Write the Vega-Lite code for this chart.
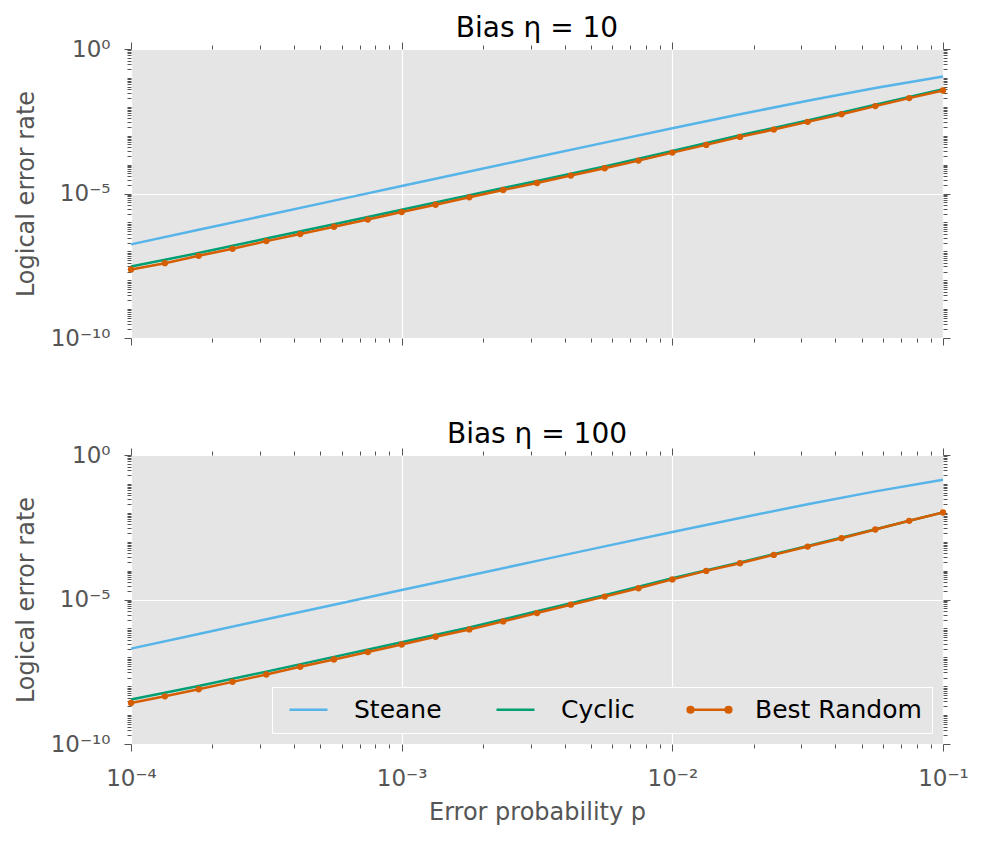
{
  "$schema": "https://vega.github.io/schema/vega-lite/v6.json",
  "padding": {"left": 14, "top": 15, "right": 10, "bottom": 5},
  "config": {
    "font": "DejaVu Sans",
    "view": {"fill": "#E5E5E5", "stroke": null},
    "axis": {
      "domain": false,
      "tickColor": "#555555",
      "tickWidth": 1,
      "labelColor": "#555555",
      "titleColor": "#555555",
      "labelFontSize": 23,
      "titleFontSize": 24,
      "titleFontWeight": "normal",
      "gridColor": "#FFFFFF",
      "gridWidth": 1.2,
      "labelFlush": false,
      "labelBound": false,
      "labelOverlap": false
    },
    "title": {"fontSize": 28, "fontWeight": "normal", "color": "#000000", "baseline": "alphabetic", "offset": -5}
  },
  "datasets": {
    "curves": [
      {"bias": 10, "code": "Steane", "p": 0.0001, "rate": 1.738e-7},
      {"bias": 10, "code": "Steane", "p": 0.0001778, "rate": 5.559e-7},
      {"bias": 10, "code": "Steane", "p": 0.0003162, "rate": 1.774e-6},
      {"bias": 10, "code": "Steane", "p": 0.0005623, "rate": 5.675e-6},
      {"bias": 10, "code": "Steane", "p": 0.001, "rate": 1.807e-5},
      {"bias": 10, "code": "Steane", "p": 0.001778, "rate": 5.768e-5},
      {"bias": 10, "code": "Steane", "p": 0.003162, "rate": 1.828e-4},
      {"bias": 10, "code": "Steane", "p": 0.005623, "rate": 5.768e-4},
      {"bias": 10, "code": "Steane", "p": 0.01, "rate": 1.799e-3},
      {"bias": 10, "code": "Steane", "p": 0.01778, "rate": 5.495e-3},
      {"bias": 10, "code": "Steane", "p": 0.03162, "rate": 1.626e-2},
      {"bias": 10, "code": "Steane", "p": 0.05623, "rate": 4.508e-2},
      {"bias": 10, "code": "Steane", "p": 0.1, "rate": 1.122e-1},

      {"bias": 10, "code": "Cyclic", "p": 0.0001, "rate": 2.965e-8},
      {"bias": 10, "code": "Cyclic", "p": 0.0001778, "rate": 8.67e-8},
      {"bias": 10, "code": "Cyclic", "p": 0.0003162, "rate": 2.773e-7},
      {"bias": 10, "code": "Cyclic", "p": 0.0005623, "rate": 8.59e-7},
      {"bias": 10, "code": "Cyclic", "p": 0.001, "rate": 2.742e-6},
      {"bias": 10, "code": "Cyclic", "p": 0.001778, "rate": 8.77e-6},
      {"bias": 10, "code": "Cyclic", "p": 0.003162, "rate": 2.716e-5},
      {"bias": 10, "code": "Cyclic", "p": 0.005623, "rate": 8.67e-5},
      {"bias": 10, "code": "Cyclic", "p": 0.01, "rate": 2.985e-4},
      {"bias": 10, "code": "Cyclic", "p": 0.01778, "rate": 1.033e-3},
      {"bias": 10, "code": "Cyclic", "p": 0.03162, "rate": 3.381e-3},
      {"bias": 10, "code": "Cyclic", "p": 0.05623, "rate": 1.172e-2},
      {"bias": 10, "code": "Cyclic", "p": 0.1, "rate": 4.027e-2},

      {"bias": 10, "code": "Best Random", "p": 0.0001, "rate": 2.355e-8},
      {"bias": 10, "code": "Best Random", "p": 0.0001334, "rate": 3.89e-8},
      {"bias": 10, "code": "Best Random", "p": 0.0001778, "rate": 6.966e-8},
      {"bias": 10, "code": "Best Random", "p": 0.0002371, "rate": 1.219e-7},
      {"bias": 10, "code": "Best Random", "p": 0.0003162, "rate": 2.254e-7},
      {"bias": 10, "code": "Best Random", "p": 0.0004217, "rate": 3.945e-7},
      {"bias": 10, "code": "Best Random", "p": 0.0005623, "rate": 7.063e-7},
      {"bias": 10, "code": "Best Random", "p": 0.0007499, "rate": 1.256e-6},
      {"bias": 10, "code": "Best Random", "p": 0.001, "rate": 2.28e-6},
      {"bias": 10, "code": "Best Random", "p": 0.001334, "rate": 4.083e-6},
      {"bias": 10, "code": "Best Random", "p": 0.001778, "rate": 7.379e-6},
      {"bias": 10, "code": "Best Random", "p": 0.002371, "rate": 1.321e-5},
      {"bias": 10, "code": "Best Random", "p": 0.003162, "rate": 2.312e-5},
      {"bias": 10, "code": "Best Random", "p": 0.004217, "rate": 4.169e-5},
      {"bias": 10, "code": "Best Random", "p": 0.005623, "rate": 7.464e-5},
      {"bias": 10, "code": "Best Random", "p": 0.007499, "rate": 1.374e-4},
      {"bias": 10, "code": "Best Random", "p": 0.01, "rate": 2.6e-4},
      {"bias": 10, "code": "Best Random", "p": 0.01334, "rate": 4.808e-4},
      {"bias": 10, "code": "Best Random", "p": 0.01778, "rate": 9.099e-4},
      {"bias": 10, "code": "Best Random", "p": 0.02371, "rate": 1.633e-3},
      {"bias": 10, "code": "Best Random", "p": 0.03162, "rate": 3.013e-3},
      {"bias": 10, "code": "Best Random", "p": 0.04217, "rate": 5.559e-3},
      {"bias": 10, "code": "Best Random", "p": 0.05623, "rate": 1.057e-2},
      {"bias": 10, "code": "Best Random", "p": 0.07499, "rate": 2.0e-2},
      {"bias": 10, "code": "Best Random", "p": 0.1, "rate": 3.673e-2},

      {"bias": 100, "code": "Steane", "p": 0.0001, "rate": 1.995e-7},
      {"bias": 100, "code": "Steane", "p": 0.0001778, "rate": 6.412e-7},
      {"bias": 100, "code": "Steane", "p": 0.0003162, "rate": 2.061e-6},
      {"bias": 100, "code": "Steane", "p": 0.0005623, "rate": 6.622e-6},
      {"bias": 100, "code": "Steane", "p": 0.001, "rate": 2.123e-5},
      {"bias": 100, "code": "Steane", "p": 0.001778, "rate": 6.808e-5},
      {"bias": 100, "code": "Steane", "p": 0.003162, "rate": 2.173e-4},
      {"bias": 100, "code": "Steane", "p": 0.005623, "rate": 6.887e-4},
      {"bias": 100, "code": "Steane", "p": 0.01, "rate": 2.163e-3},
      {"bias": 100, "code": "Steane", "p": 0.01778, "rate": 6.653e-3},
      {"bias": 100, "code": "Steane", "p": 0.03162, "rate": 1.977e-2},
      {"bias": 100, "code": "Steane", "p": 0.05623, "rate": 5.521e-2},
      {"bias": 100, "code": "Steane", "p": 0.1, "rate": 1.38e-1},

      {"bias": 100, "code": "Cyclic", "p": 0.0001, "rate": 3.467e-9},
      {"bias": 100, "code": "Cyclic", "p": 0.0001778, "rate": 1.012e-8},
      {"bias": 100, "code": "Cyclic", "p": 0.0003162, "rate": 3.192e-8},
      {"bias": 100, "code": "Cyclic", "p": 0.0005623, "rate": 1.033e-7},
      {"bias": 100, "code": "Cyclic", "p": 0.001, "rate": 3.342e-7},
      {"bias": 100, "code": "Cyclic", "p": 0.001778, "rate": 1.084e-6},
      {"bias": 100, "code": "Cyclic", "p": 0.003162, "rate": 3.899e-6},
      {"bias": 100, "code": "Cyclic", "p": 0.005623, "rate": 1.413e-5},
      {"bias": 100, "code": "Cyclic", "p": 0.01, "rate": 5.433e-5},
      {"bias": 100, "code": "Cyclic", "p": 0.01778, "rate": 1.923e-4},
      {"bias": 100, "code": "Cyclic", "p": 0.03162, "rate": 7.112e-4},
      {"bias": 100, "code": "Cyclic", "p": 0.05623, "rate": 2.71e-3},
      {"bias": 100, "code": "Cyclic", "p": 0.1, "rate": 1.035e-2},

      {"bias": 100, "code": "Best Random", "p": 0.0001, "rate": 2.63e-9},
      {"bias": 100, "code": "Best Random", "p": 0.0001334, "rate": 4.467e-9},
      {"bias": 100, "code": "Best Random", "p": 0.0001778, "rate": 7.852e-9},
      {"bias": 100, "code": "Best Random", "p": 0.0002371, "rate": 1.413e-8},
      {"bias": 100, "code": "Best Random", "p": 0.0003162, "rate": 2.535e-8},
      {"bias": 100, "code": "Best Random", "p": 0.0004217, "rate": 4.677e-8},
      {"bias": 100, "code": "Best Random", "p": 0.0005623, "rate": 8.395e-8},
      {"bias": 100, "code": "Best Random", "p": 0.0007499, "rate": 1.514e-7},
      {"bias": 100, "code": "Best Random", "p": 0.001, "rate": 2.78e-7},
      {"bias": 100, "code": "Best Random", "p": 0.001334, "rate": 5.129e-7},
      {"bias": 100, "code": "Best Random", "p": 0.001778, "rate": 9.226e-7},
      {"bias": 100, "code": "Best Random", "p": 0.002371, "rate": 1.746e-6},
      {"bias": 100, "code": "Best Random", "p": 0.003162, "rate": 3.396e-6},
      {"bias": 100, "code": "Best Random", "p": 0.004217, "rate": 6.607e-6},
      {"bias": 100, "code": "Best Random", "p": 0.005623, "rate": 1.259e-5},
      {"bias": 100, "code": "Best Random", "p": 0.007499, "rate": 2.455e-5},
      {"bias": 100, "code": "Best Random", "p": 0.01, "rate": 4.955e-5},
      {"bias": 100, "code": "Best Random", "p": 0.01334, "rate": 9.772e-5},
      {"bias": 100, "code": "Best Random", "p": 0.01778, "rate": 1.795e-4},
      {"bias": 100, "code": "Best Random", "p": 0.02371, "rate": 3.491e-4},
      {"bias": 100, "code": "Best Random", "p": 0.03162, "rate": 6.792e-4},
      {"bias": 100, "code": "Best Random", "p": 0.04217, "rate": 1.321e-3},
      {"bias": 100, "code": "Best Random", "p": 0.05623, "rate": 2.649e-3},
      {"bias": 100, "code": "Best Random", "p": 0.07499, "rate": 5.272e-3},
      {"bias": 100, "code": "Best Random", "p": 0.1, "rate": 1.023e-2}
    ]
  },
  "data": {"name": "curves"},
  "spacing": 71,
  "resolve": {"scale": {"color": "independent"}, "legend": {"color": "independent"}},
  "vconcat": [
    {
      "title": "Bias η = 10",
      "width": 812,
      "height": 289,
      "transform": [{"filter": "datum.bias == 10"}],
      "resolve": {"axis": {"x": "independent", "y": "independent"}},
      "layer": [
        {
          "mark": {"type": "line", "strokeWidth": 2.5},
          "encoding": {
            "x": {
              "field": "p", "type": "quantitative",
              "scale": {"type": "log", "domain": [0.0001, 0.1], "nice": false},
              "axis": {
                "orient": "bottom", "title": null, "labels": false,
                "values": [0.0001, 0.0002, 0.0003, 0.0004, 0.0005, 0.0006, 0.0007, 0.0008, 0.0009, 0.001, 0.002, 0.003, 0.004, 0.005, 0.006, 0.007, 0.008, 0.009, 0.01, 0.02, 0.03, 0.04, 0.05, 0.06, 0.07, 0.08, 0.09, 0.1],
                "tickSize": {"condition": {"test": "indexof([0.0001, 0.001, 0.01, 0.1], datum.value) >= 0", "value": 7}, "value": 4},
                "grid": true,
                "gridOpacity": {"condition": {"test": "indexof([0.0001, 0.001, 0.01, 0.1], datum.value) >= 0", "value": 1}, "value": 0}
              }
            },
            "y": {
              "field": "rate", "type": "quantitative",
              "scale": {"type": "log", "domain": [1e-10, 1], "nice": false},
              "axis": {
                "orient": "left", "title": "Logical error rate", "titlePadding": 12,
                "values": [1e-10, 2e-10, 3e-10, 4e-10, 5e-10, 6e-10, 7e-10, 8e-10, 9e-10, 1e-9, 2e-9, 3e-9, 4e-9, 5e-9, 6e-9, 7e-9, 8e-9, 9e-9, 1e-8, 2e-8, 3e-8, 4e-8, 5e-8, 6e-8, 7e-8, 8e-8, 9e-8, 1e-7, 2e-7, 3e-7, 4e-7, 5e-7, 6e-7, 7e-7, 8e-7, 9e-7, 1e-6, 2e-6, 3e-6, 4e-6, 5e-6, 6e-6, 7e-6, 8e-6, 9e-6, 1e-5, 2e-5, 3e-5, 4e-5, 5e-5, 6e-5, 7e-5, 8e-5, 9e-5, 1e-4, 2e-4, 3e-4, 4e-4, 5e-4, 6e-4, 7e-4, 8e-4, 9e-4, 1e-3, 2e-3, 3e-3, 4e-3, 5e-3, 6e-3, 7e-3, 8e-3, 9e-3, 1e-2, 2e-2, 3e-2, 4e-2, 5e-2, 6e-2, 7e-2, 8e-2, 9e-2, 1e-1, 2e-1, 3e-1, 4e-1, 5e-1, 6e-1, 7e-1, 8e-1, 9e-1, 1],
                "labelExpr": "datum.value == 1 ? '10⁰' : datum.value == 1e-5 ? '10⁻⁵' : datum.value == 1e-10 ? '10⁻¹⁰' : ''",
                "labelPadding": 14,
                "tickSize": {"condition": {"test": "indexof([1, 1e-5, 1e-10], datum.value) >= 0", "value": 7}, "value": 4},
                "grid": true,
                "gridOpacity": {"condition": {"test": "indexof([1, 1e-5, 1e-10], datum.value) >= 0", "value": 1}, "value": 0}
              }
            },
            "color": {
              "field": "code", "type": "nominal",
              "scale": {"domain": ["Steane", "Cyclic", "Best Random"], "range": ["#56B4E9", "#009E73", "#D55E00"]},
              "legend": null
            }
          }
        },
        {
          "transform": [{"filter": "datum.code == 'Best Random'"}],
          "mark": {"type": "point", "filled": true, "size": 40, "color": "#D55E00", "opacity": 1},
          "encoding": {
            "x": {
              "field": "p", "type": "quantitative",
              "axis": {
                "orient": "top", "title": null, "labels": false, "grid": false,
                "values": [0.0001, 0.0002, 0.0003, 0.0004, 0.0005, 0.0006, 0.0007, 0.0008, 0.0009, 0.001, 0.002, 0.003, 0.004, 0.005, 0.006, 0.007, 0.008, 0.009, 0.01, 0.02, 0.03, 0.04, 0.05, 0.06, 0.07, 0.08, 0.09, 0.1],
                "tickSize": {"condition": {"test": "indexof([0.0001, 0.001, 0.01, 0.1], datum.value) >= 0", "value": 7}, "value": 4}
              }
            },
            "y": {
              "field": "rate", "type": "quantitative",
              "axis": {
                "orient": "right", "title": null, "labels": false, "grid": false,
                "values": [1e-10, 2e-10, 3e-10, 4e-10, 5e-10, 6e-10, 7e-10, 8e-10, 9e-10, 1e-9, 2e-9, 3e-9, 4e-9, 5e-9, 6e-9, 7e-9, 8e-9, 9e-9, 1e-8, 2e-8, 3e-8, 4e-8, 5e-8, 6e-8, 7e-8, 8e-8, 9e-8, 1e-7, 2e-7, 3e-7, 4e-7, 5e-7, 6e-7, 7e-7, 8e-7, 9e-7, 1e-6, 2e-6, 3e-6, 4e-6, 5e-6, 6e-6, 7e-6, 8e-6, 9e-6, 1e-5, 2e-5, 3e-5, 4e-5, 5e-5, 6e-5, 7e-5, 8e-5, 9e-5, 1e-4, 2e-4, 3e-4, 4e-4, 5e-4, 6e-4, 7e-4, 8e-4, 9e-4, 1e-3, 2e-3, 3e-3, 4e-3, 5e-3, 6e-3, 7e-3, 8e-3, 9e-3, 1e-2, 2e-2, 3e-2, 4e-2, 5e-2, 6e-2, 7e-2, 8e-2, 9e-2, 1e-1, 2e-1, 3e-1, 4e-1, 5e-1, 6e-1, 7e-1, 8e-1, 9e-1, 1],
                "tickSize": {"condition": {"test": "indexof([1, 1e-5, 1e-10], datum.value) >= 0", "value": 7}, "value": 4}
              }
            }
          }
        }
      ]
    },
    {
      "title": "Bias η = 100",
      "width": 812,
      "height": 289,
      "transform": [{"filter": "datum.bias == 100"}],
      "resolve": {"axis": {"x": "independent", "y": "independent"}},
      "layer": [
        {
          "mark": {"type": "line", "strokeWidth": 2.5},
          "encoding": {
            "x": {
              "field": "p", "type": "quantitative",
              "scale": {"type": "log", "domain": [0.0001, 0.1], "nice": false},
              "axis": {
                "orient": "bottom", "title": "Error probability p", "titlePadding": 10,
                "values": [0.0001, 0.0002, 0.0003, 0.0004, 0.0005, 0.0006, 0.0007, 0.0008, 0.0009, 0.001, 0.002, 0.003, 0.004, 0.005, 0.006, 0.007, 0.008, 0.009, 0.01, 0.02, 0.03, 0.04, 0.05, 0.06, 0.07, 0.08, 0.09, 0.1],
                "labelExpr": "datum.value == 0.0001 ? '10⁻⁴' : datum.value == 0.001 ? '10⁻³' : datum.value == 0.01 ? '10⁻²' : datum.value == 0.1 ? '10⁻¹' : ''",
                "labelPadding": 16,
                "tickSize": {"condition": {"test": "indexof([0.0001, 0.001, 0.01, 0.1], datum.value) >= 0", "value": 7}, "value": 4},
                "grid": true,
                "gridOpacity": {"condition": {"test": "indexof([0.0001, 0.001, 0.01, 0.1], datum.value) >= 0", "value": 1}, "value": 0}
              }
            },
            "y": {
              "field": "rate", "type": "quantitative",
              "scale": {"type": "log", "domain": [1e-10, 1], "nice": false},
              "axis": {
                "orient": "left", "title": "Logical error rate", "titlePadding": 12,
                "values": [1e-10, 2e-10, 3e-10, 4e-10, 5e-10, 6e-10, 7e-10, 8e-10, 9e-10, 1e-9, 2e-9, 3e-9, 4e-9, 5e-9, 6e-9, 7e-9, 8e-9, 9e-9, 1e-8, 2e-8, 3e-8, 4e-8, 5e-8, 6e-8, 7e-8, 8e-8, 9e-8, 1e-7, 2e-7, 3e-7, 4e-7, 5e-7, 6e-7, 7e-7, 8e-7, 9e-7, 1e-6, 2e-6, 3e-6, 4e-6, 5e-6, 6e-6, 7e-6, 8e-6, 9e-6, 1e-5, 2e-5, 3e-5, 4e-5, 5e-5, 6e-5, 7e-5, 8e-5, 9e-5, 1e-4, 2e-4, 3e-4, 4e-4, 5e-4, 6e-4, 7e-4, 8e-4, 9e-4, 1e-3, 2e-3, 3e-3, 4e-3, 5e-3, 6e-3, 7e-3, 8e-3, 9e-3, 1e-2, 2e-2, 3e-2, 4e-2, 5e-2, 6e-2, 7e-2, 8e-2, 9e-2, 1e-1, 2e-1, 3e-1, 4e-1, 5e-1, 6e-1, 7e-1, 8e-1, 9e-1, 1],
                "labelExpr": "datum.value == 1 ? '10⁰' : datum.value == 1e-5 ? '10⁻⁵' : datum.value == 1e-10 ? '10⁻¹⁰' : ''",
                "labelPadding": 14,
                "tickSize": {"condition": {"test": "indexof([1, 1e-5, 1e-10], datum.value) >= 0", "value": 7}, "value": 4},
                "grid": true,
                "gridOpacity": {"condition": {"test": "indexof([1, 1e-5, 1e-10], datum.value) >= 0", "value": 1}, "value": 0}
              }
            },
            "color": {
              "field": "code", "type": "nominal",
              "scale": {"domain": ["Steane", "Cyclic", "Best Random"], "range": ["#56B4E9", "#009E73", "#D55E00"]},
              "legend": {
                "title": null,
                "orient": "none",
                "legendX": 141,
                "legendY": 232,
                "direction": "horizontal",
                "fillColor": "#E5E5E5",
                "strokeColor": "#FFFFFF",
                "padding": 10,
                "cornerRadius": 0,
                "labelFontSize": 25,
                "labelColor": "#000000",
                "labelLimit": 0,
                "labelOffset": 47,
                "columnPadding": 47,
                "symbolSize": 361,
                "symbolStrokeWidth": 2.5,
                "encode": {
                  "symbols": {
                    "update": {
                      "shape": {"signal": "datum.label === 'Best Random' ? 'M-0.526,0L3.474,0M-0.226,0A0.3,0.3,0,1,1,-0.826,0A0.3,0.3,0,1,1,-0.226,0M3.774,0A0.3,0.3,0,1,1,3.174,0A0.3,0.3,0,1,1,3.774,0' : 'M-0.526,0L3.474,0'"},
                      "fill": {"signal": "datum.label === 'Best Random' ? '#D55E00' : 'transparent'"}
                    }
                  }
                }
              }
            }
          }
        },
        {
          "transform": [{"filter": "datum.code == 'Best Random'"}],
          "mark": {"type": "point", "filled": true, "size": 40, "color": "#D55E00", "opacity": 1},
          "encoding": {
            "x": {
              "field": "p", "type": "quantitative",
              "axis": {
                "orient": "top", "title": null, "labels": false, "grid": false,
                "values": [0.0001, 0.0002, 0.0003, 0.0004, 0.0005, 0.0006, 0.0007, 0.0008, 0.0009, 0.001, 0.002, 0.003, 0.004, 0.005, 0.006, 0.007, 0.008, 0.009, 0.01, 0.02, 0.03, 0.04, 0.05, 0.06, 0.07, 0.08, 0.09, 0.1],
                "tickSize": {"condition": {"test": "indexof([0.0001, 0.001, 0.01, 0.1], datum.value) >= 0", "value": 7}, "value": 4}
              }
            },
            "y": {
              "field": "rate", "type": "quantitative",
              "axis": {
                "orient": "right", "title": null, "labels": false, "grid": false,
                "values": [1e-10, 2e-10, 3e-10, 4e-10, 5e-10, 6e-10, 7e-10, 8e-10, 9e-10, 1e-9, 2e-9, 3e-9, 4e-9, 5e-9, 6e-9, 7e-9, 8e-9, 9e-9, 1e-8, 2e-8, 3e-8, 4e-8, 5e-8, 6e-8, 7e-8, 8e-8, 9e-8, 1e-7, 2e-7, 3e-7, 4e-7, 5e-7, 6e-7, 7e-7, 8e-7, 9e-7, 1e-6, 2e-6, 3e-6, 4e-6, 5e-6, 6e-6, 7e-6, 8e-6, 9e-6, 1e-5, 2e-5, 3e-5, 4e-5, 5e-5, 6e-5, 7e-5, 8e-5, 9e-5, 1e-4, 2e-4, 3e-4, 4e-4, 5e-4, 6e-4, 7e-4, 8e-4, 9e-4, 1e-3, 2e-3, 3e-3, 4e-3, 5e-3, 6e-3, 7e-3, 8e-3, 9e-3, 1e-2, 2e-2, 3e-2, 4e-2, 5e-2, 6e-2, 7e-2, 8e-2, 9e-2, 1e-1, 2e-1, 3e-1, 4e-1, 5e-1, 6e-1, 7e-1, 8e-1, 9e-1, 1],
                "tickSize": {"condition": {"test": "indexof([1, 1e-5, 1e-10], datum.value) >= 0", "value": 7}, "value": 4}
              }
            }
          }
        }
      ]
    }
  ]
}
